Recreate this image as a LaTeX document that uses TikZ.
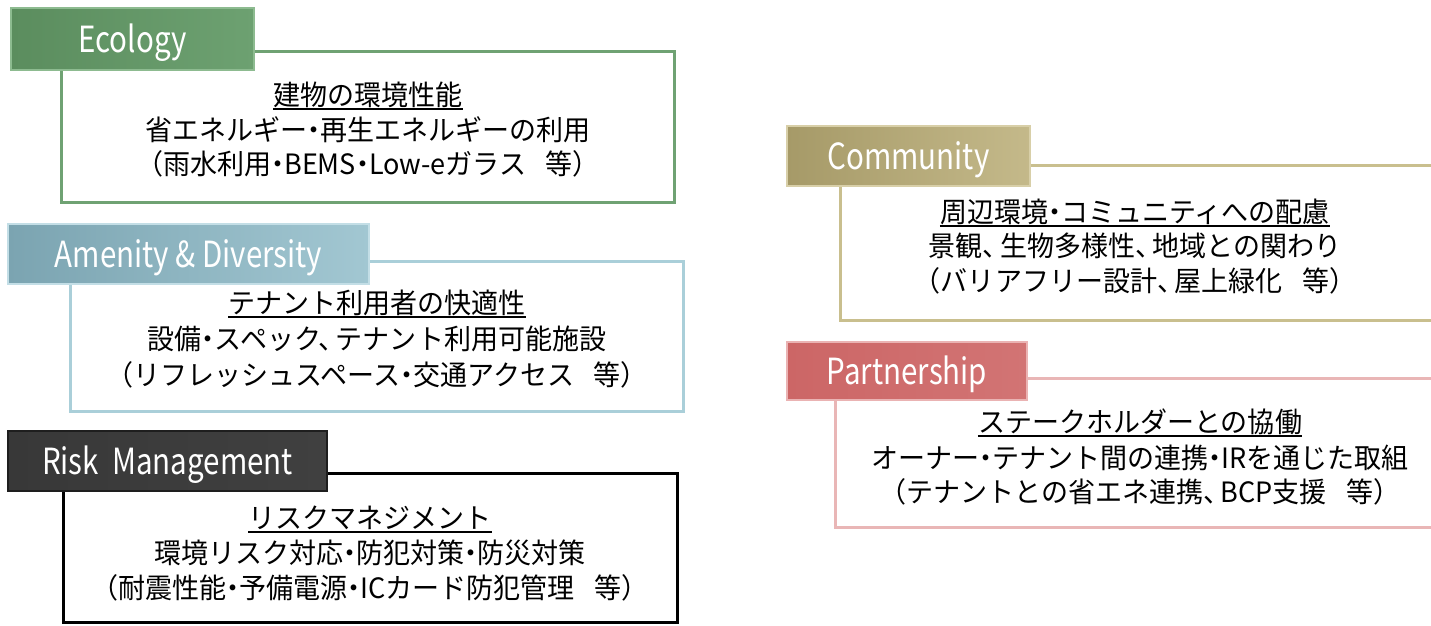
\documentclass[tikz,border=0pt]{standalone}
\usepackage{fontspec}
\setmainfont{Noto Sans CJK JP}
\newfontfamily\jpf[FakeStretch=0.965]{Noto Sans CJK JP}
\newfontfamily\tabf[FakeStretch=0.82]{Noto Sans CJK JP}
\newcommand{\jdot}{\kern-0.25em・\kern-0.25em}
\newcommand{\jcomma}{、\kern-0.35em}
\newcommand{\jsp}{\hspace{0.7em}}
\definecolor{ecoA}{HTML}{5B8D5E}\definecolor{ecoB}{HTML}{6DA171}\definecolor{ecoE}{HTML}{8DBB90}\definecolor{ecoL}{HTML}{6FA273}
\definecolor{amnA}{HTML}{7BA4B1}\definecolor{amnB}{HTML}{A2C7D2}\definecolor{amnE}{HTML}{C3DEE6}\definecolor{amnL}{HTML}{AACFD9}
\definecolor{rskA}{HTML}{383838}\definecolor{rskB}{HTML}{404040}\definecolor{rskE}{HTML}{1E1E1E}\definecolor{rskL}{HTML}{000000}
\definecolor{comA}{HTML}{A69A68}\definecolor{comB}{HTML}{C4B98A}\definecolor{comE}{HTML}{D8CFA8}\definecolor{comL}{HTML}{C9BF8E}
\definecolor{parA}{HTML}{CC6666}\definecolor{parB}{HTML}{D27474}\definecolor{parE}{HTML}{EAB3B3}\definecolor{parL}{HTML}{E9B6B6}
\tikzset{
  tabbox/.style={draw=#1E, line width=1.5pt, left color=#1A, right color=#1B, text=white,
    font=\tabf\fontsize{36}{40}\selectfont, inner sep=0pt, text height=29pt, text depth=2pt},
  panel/.style={draw=#1L, line width=3pt, fill=white, inner sep=0pt},
  bodyline/.style={anchor=base, inner sep=0pt, font=\jpf\fontsize{28}{34}\selectfont, text=black},
  uline/.style={line width=1.6pt, black},
}
\begin{document}
\begin{tikzpicture}[x=1pt,y=-1pt]
\useasboundingbox (0,0) rectangle (1431,625);
\fill[white] (0,0) rectangle (1431,625);
\clip (0,0) rectangle (1431,625);

% Ecology
\node[panel=eco, minimum width=613pt, minimum height=151pt] (ecoP) at (368,126.5) {};
\node[tabbox=eco, minimum width=243pt, minimum height=62pt] (ecoT) at (132.5,39) {Ecology};
\node[bodyline] (eco1) at (368,105) {建物の環境性能};
\node[bodyline] (eco2) at (368,140) {省エネルギー\jdot 再生エネルギーの利用};
\node[bodyline] (eco3) at (368,174) {（雨水利用\jdot BEMS\jdot Low-eガラス\jsp 等）};
\draw[uline] ([yshift=-4pt]eco1.base west) -- ([yshift=-4pt]eco1.base east);

% Amenity & Diversity
\node[panel=amn, minimum width=613pt, minimum height=150pt] (amnP) at (376.5,336) {};
\node[tabbox=amn, minimum width=361pt, minimum height=60pt] (amnT) at (188.5,254) {Amenity \& Diversity};
\node[bodyline] (amn1) at (377,313) {テナント利用者の快適性};
\node[bodyline] (amn2) at (377,349) {設備\jdot スペック\jcomma テナント利用可能施設};
\node[bodyline] (amn3) at (377,385) {（リフレッシュスペース\jdot 交通アクセス\jsp 等）};
\draw[uline] ([yshift=-4pt]amn1.base west) -- ([yshift=-4pt]amn1.base east);

% Risk Management
\node[panel=rsk, minimum width=614pt, minimum height=149pt] (rskP) at (370,547.5) {};
\node[tabbox=rsk, minimum width=319pt, minimum height=60pt] (rskT) at (167.5,461) {Risk~~Management};
\node[bodyline] (rsk1) at (370,528) {リスクマネジメント};
\node[bodyline] (rsk2) at (370,563) {環境リスク対応\jdot 防犯対策\jdot 防災対策};
\node[bodyline] (rsk3) at (370,598) {（耐震性能\jdot 予備電源\jdot ICカード防犯管理\jsp 等）};
\draw[uline] ([yshift=-4pt]rsk1.base west) -- ([yshift=-4pt]rsk1.base east);

% Community
\node[panel=com, minimum width=610pt, minimum height=155pt] (comP) at (1145,242.5) {};
\node[tabbox=com, minimum width=243pt, minimum height=60pt] (comT) at (908.5,156) {Community};
\node[bodyline] (com1) at (1135,222) {周辺環境\jdot コミュニティへの配慮};
\node[bodyline] (com2) at (1135,256) {景観\jcomma 生物多様性\jcomma 地域との関わり};
\node[bodyline] (com3) at (1135,291) {（バリアフリー設計\jcomma 屋上緑化\jsp 等）};
\draw[uline] ([yshift=-4pt]com1.base west) -- ([yshift=-4pt]com1.base east);

% Partnership
\node[panel=par, minimum width=615pt, minimum height=149pt] (parP) at (1142.5,452.5) {};
\node[tabbox=par, minimum width=240pt, minimum height=58pt] (parT) at (907,371) {Partnership};
\node[bodyline] (par1) at (1140,432) {ステークホルダーとの協働};
\node[bodyline] (par2) at (1140,468) {オーナー\jdot テナント間の連携\jdot IRを通じた取組};
\node[bodyline] (par3) at (1140,502) {（テナントとの省エネ連携\jcomma BCP支援\jsp 等）};
\draw[uline] ([yshift=-4pt]par1.base west) -- ([yshift=-4pt]par1.base east);
\end{tikzpicture}
\end{document}
